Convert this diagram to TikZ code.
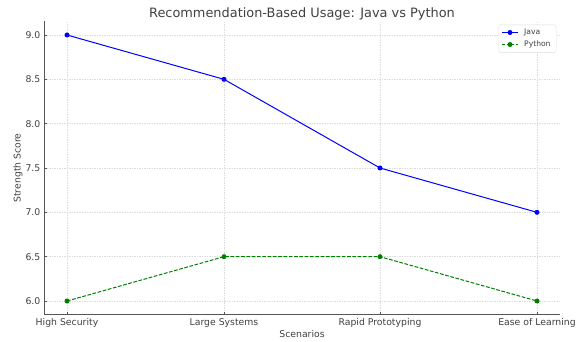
\documentclass[tikz,border=0pt]{standalone}
\usepackage{fontspec}
\setmainfont{DejaVu Sans}
\definecolor{txt}{HTML}{404040}
\definecolor{spine}{HTML}{555555}
\definecolor{gridc}{HTML}{DDDDDD}
\definecolor{jblue}{HTML}{0000FF}
\definecolor{pgreen}{HTML}{008000}
\begin{document}
\begin{tikzpicture}[x=1pt,y=-1pt,
  tick/.style={font=\fontsize{9.3}{11}\selectfont, text=txt, inner sep=0pt},
  legtxt/.style={font=\fontsize{7.6}{9}\selectfont, text=txt, inner sep=0pt},
  gridline/.style={draw=gridc, line width=0.5pt, dash pattern=on 1.5pt off 1pt},
  jline/.style={draw=jblue, line width=1pt},
  pline/.style={draw=pgreen, line width=1pt, dash pattern=on 3.7pt off 1.6pt},
  jmark/.style={circle, fill=jblue, inner sep=0pt, minimum size=5pt},
  pmark/.style={circle, fill=pgreen, inner sep=0pt, minimum size=5pt}]
\useasboundingbox (0,0) rectangle (576,342);
% grid
\foreach \x in {67,224,380,537} \draw[gridline] (\x,22) -- (\x,314);
\foreach \y in {35,79.33,123.67,168,212.33,256.67,301} \draw[gridline] (44,\y) -- (560,\y);
% spines
\draw[spine, line width=0.8pt] (44,21.5) -- (44,314) -- (560,314);
% ticks
\foreach \x in {67,224,380,537} \draw[spine, line width=0.6pt] (\x,314) -- (\x,311.5);
\foreach \y in {35,79.33,123.67,168,212.33,256.67,301} \draw[spine, line width=0.6pt] (44,\y) -- (46.5,\y);
% y tick labels
\node[tick, anchor=east] (y90) at (40.5,35) {9.0};
\node[tick, anchor=east] (y85) at (40.5,79.33) {8.5};
\node[tick, anchor=east] (y80) at (40.5,123.67) {8.0};
\node[tick, anchor=east] (y75) at (40.5,168) {7.5};
\node[tick, anchor=east] (y70) at (40.5,212.33) {7.0};
\node[tick, anchor=east] (y65) at (40.5,256.67) {6.5};
\node[tick, anchor=east] (y60) at (40.5,301) {6.0};
% x tick labels
\node[tick, anchor=base] (x1) at (67,325.5) {High Security};
\node[tick, anchor=base] (x2) at (224,325.5) {Large Systems};
\node[tick, anchor=base] (x3) at (380,325.5) {Rapid Prototyping};
\node[tick, anchor=base] (x4) at (537,325.5) {Ease of Learning};
% axis labels
\node[tick, anchor=base] (xl) at (302,337.5) {Scenarios};
\node[tick, anchor=base, rotate=90] (yl) at (20.5,168) {Strength Score};
% title
\node[font=\fontsize{12.9}{15}\selectfont, text=txt, inner sep=0pt, anchor=base] (title) at (302,17.5) {Recommendation-Based Usage: Java vs Python};
% data
\node[jmark] (j1) at (67,35) {};
\node[jmark] (j2) at (224,79.33) {};
\node[jmark] (j3) at (380,168) {};
\node[jmark] (j4) at (537,212.33) {};
\node[pmark] (p1) at (67,301) {};
\node[pmark] (p2) at (224,256.67) {};
\node[pmark] (p3) at (380,256.67) {};
\node[pmark] (p4) at (537,301) {};
\draw[jline] (j1.center) -- (j2.center) -- (j3.center) -- (j4.center);
\draw[pline] (p1.center) -- (p2.center) -- (p3.center) -- (p4.center);
% legend
\node[draw=gridc, fill=white, rounded corners=1.5pt, minimum width=57.5pt, minimum height=27.5pt, inner sep=0pt] (leg) at (527.5,38.7) {};
\coordinate (la1) at (502,32.5);
\coordinate (lb1) at (518,32.5);
\coordinate (la2) at (502,44.5);
\coordinate (lb2) at (518,44.5);
\draw[jline] (la1) -- (lb1);
\node[jmark] (lj) at (510,32.5) {};
\draw[pline, dash pattern=on 3pt off 1.5pt] (la2) -- (lb2);
\node[pmark] (lp) at (510,44.5) {};
\node[legtxt, anchor=west] (ljt) at (524,32.5) {Java};
\node[legtxt, anchor=west] (lpt) at (524,44.5) {Python};
\end{tikzpicture}
\end{document}
